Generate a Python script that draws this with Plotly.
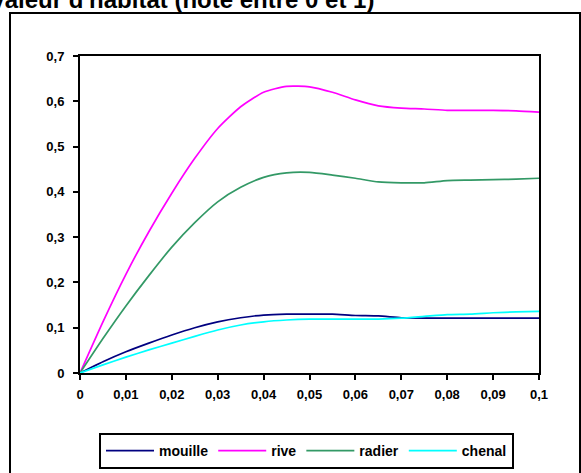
import plotly.graph_objects as go

# Débit relatif (axe X) et valeur d'habitat par faciès
debit = [0.0, 0.005, 0.01, 0.015, 0.02, 0.025, 0.03, 0.035, 0.04, 0.045, 0.05,
         0.055, 0.06, 0.065, 0.07, 0.075, 0.08, 0.085, 0.09, 0.095, 0.1]

mouille = [0.0, 0.025, 0.047, 0.066, 0.084, 0.100, 0.113, 0.122, 0.128, 0.130, 0.130,
           0.130, 0.127, 0.126, 0.122, 0.121, 0.121, 0.121, 0.121, 0.121, 0.121]
rive = [0.0, 0.113, 0.218, 0.312, 0.397, 0.474, 0.540, 0.588, 0.620, 0.633, 0.632,
        0.620, 0.603, 0.590, 0.585, 0.583, 0.580, 0.580, 0.580, 0.579, 0.576]
radier = [0.0, 0.076, 0.148, 0.215, 0.278, 0.332, 0.378, 0.410, 0.432, 0.442, 0.443,
          0.437, 0.430, 0.422, 0.420, 0.420, 0.425, 0.426, 0.427, 0.428, 0.430]
chenal = [0.0, 0.018, 0.035, 0.051, 0.066, 0.081, 0.095, 0.106, 0.113, 0.117, 0.119,
          0.119, 0.119, 0.119, 0.121, 0.125, 0.129, 0.130, 0.133, 0.135, 0.136]

series = [
    ("mouille", mouille, "#000080"),
    ("rive", rive, "#FF00FF"),
    ("radier", radier, "#339966"),
    ("chenal", chenal, "#00FFFF"),
]

x_ticks = [0, 0.01, 0.02, 0.03, 0.04, 0.05, 0.06, 0.07, 0.08, 0.09, 0.1]
y_ticks = [0, 0.1, 0.2, 0.3, 0.4, 0.5, 0.6, 0.7]
titre = "Valeur d'habitat (note entre 0 et 1)"

W, H = 581, 473
ML, MR, MT, MB = 80, 42, 56, 100
PW, PH = W - ML - MR, H - MT - MB


def px_x(p):
    return (p - ML) / PW


def px_y(p):
    return (H - MB - p) / PH


fig = go.Figure()
for nom, vals, couleur in series:
    fig.add_trace(go.Scatter(
        x=debit, y=vals, name=nom, mode="lines",
        line=dict(color=couleur, width=1.7, shape="spline", smoothing=0.6),
    ))

tick_font = dict(family="Liberation Sans", size=13, color="black", weight="bold")

fig.update_layout(
    width=W, height=H,
    margin=dict(l=ML, r=MR, t=MT, b=MB, autoexpand=False),
    paper_bgcolor="white", plot_bgcolor="white",
    separators=", ",
    showlegend=True,
    legend=dict(
        orientation="h", x=px_x(99), y=px_y(433), xanchor="left", yanchor="top",
        bordercolor="black", borderwidth=2, bgcolor="white",
        font=dict(family="Liberation Sans", size=14, color="black", weight="bold"),
        itemwidth=48, tracegroupgap=0,
    ),
    xaxis=dict(
        range=[0, 0.1], tickvals=x_ticks, tickformat="~g",
        showgrid=False, zeroline=False,
        showline=True, linecolor="black", linewidth=2, mirror=True,
        ticks="outside", ticklen=5, tickwidth=1.5, tickcolor="black",
        ticklabelstandoff=3, tickfont=tick_font,
    ),
    yaxis=dict(
        range=[0, 0.7], tickvals=y_ticks, tickformat="~g",
        showgrid=False, zeroline=False,
        showline=True, linecolor="black", linewidth=2, mirror=True,
        ticks="outside", ticklen=5, tickwidth=1.5, tickcolor="black",
        ticklabelstandoff=6, tickfont=tick_font,
    ),
    shapes=[dict(
        type="rect", xref="paper", yref="paper",
        x0=px_x(10), x1=px_x(580), y0=px_y(490), y1=px_y(13),
        line=dict(color="black", width=2), fillcolor="rgba(0,0,0,0)",
    )],
    annotations=[dict(
        text="<b>" + titre + "</b>", xref="paper", yref="paper",
        x=px_x(-12), y=px_y(15), xanchor="left", yanchor="bottom",
        showarrow=False,
        font=dict(family="Liberation Sans", size=24, color="black"),
    )],
)

fig.write_html("out.html")
